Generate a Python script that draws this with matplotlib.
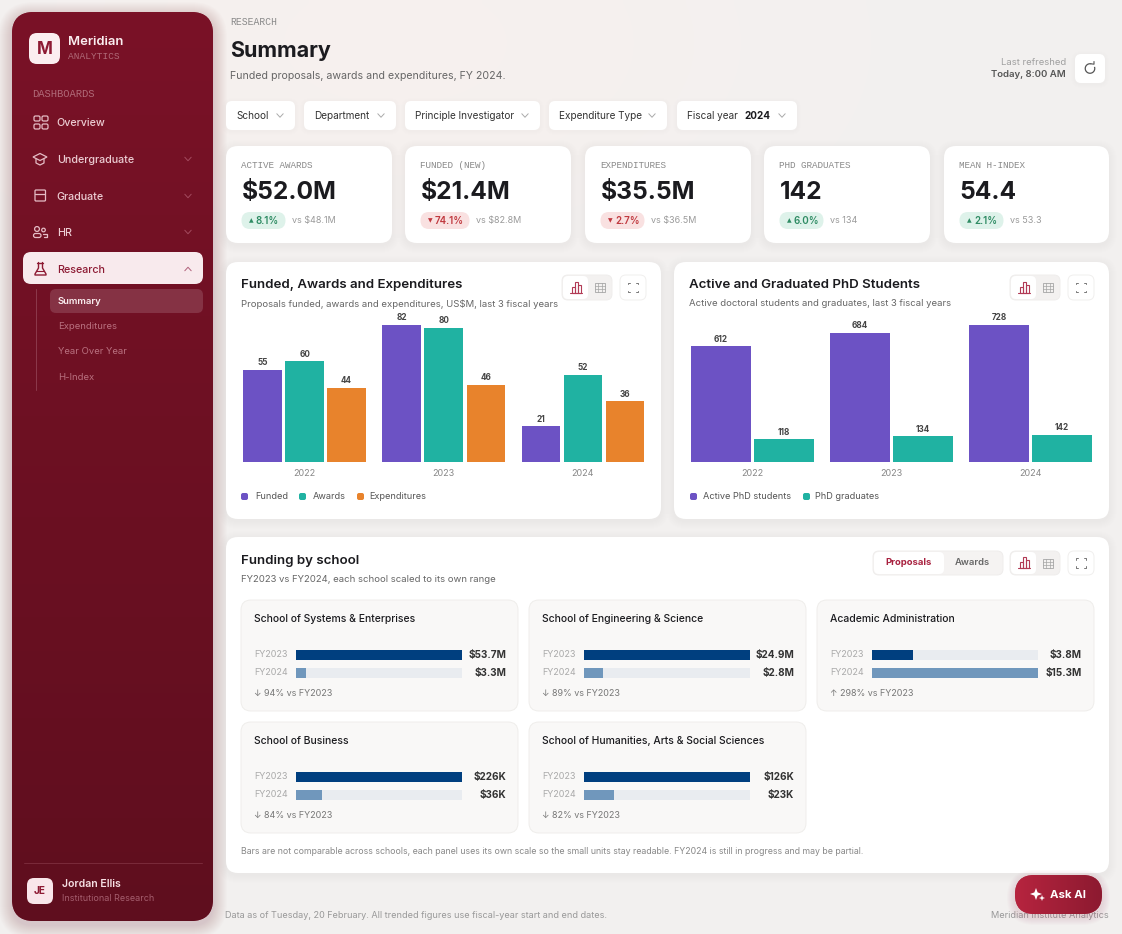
#!/usr/bin/env python3
import numpy as np
import matplotlib
matplotlib.use("Agg")
import matplotlib.pyplot as plt
from matplotlib.patches import FancyBboxPatch, Circle, Polygon, Arc
from matplotlib.colors import to_rgb

plt.rcParams['font.family'] = ['Inter', 'DejaVu Sans']

# research chart
years = ['2022', '2023', '2024']
funded = [55, 82, 21]
awards = [60, 80, 52]
expenditures = [44, 46, 36]

# phd chart
active_phd = [612, 684, 728]
phd_grads = [118, 134, 142]

# kpi cards
kpi_labels = ['ACTIVE AWARDS', 'FUNDED (NEW)', 'EXPENDITURES', 'PHD GRADUATES', 'MEAN H-INDEX']
kpi_values = ['$52.0M', '$21.4M', '$35.5M', '142', '54.4']
kpi_arrows = ['▲', '▼', '▼', '▲', '▲']
kpi_deltas = ['8.1%', '74.1%', '2.7%', '6.0%', '2.1%']
kpi_vs = ['vs $48.1M', 'vs $82.8M', 'vs $36.5M', 'vs 134', 'vs 53.3']

# school panels
schools = ['School of Systems & Enterprises', 'School of Engineering & Science',
           'Academic Administration', 'School of Business',
           'School of Humanities, Arts & Social Sciences']
fy23 = [53.7, 24.9, 3.8, 0.226, 0.126]
fy24 = [3.3, 2.8, 15.3, 0.036, 0.023]
fy23_labels = ['$53.7M', '$24.9M', '$3.8M', '$226K', '$126K']
fy24_labels = ['$3.3M', '$2.8M', '$15.3M', '$36K', '$23K']
school_deltas = ['↓ 94% vs FY2023', '↓ 89% vs FY2023', '↑ 298% vs FY2023',
                 '↓ 84% vs FY2023', '↓ 82% vs FY2023']

filters = ['School', 'Department', 'Principle Investigator', 'Expenditure Type', 'Fiscal year']
nav_items = ['Overview', 'Undergraduate', 'Graduate', 'HR', 'Research']
sub_items = ['Summary', 'Expenditures', 'Year Over Year', 'H-Index']

PURPLE = '#6c52c4'
TEAL = '#20b2a2'
ORANGE = '#e8832c'
NAVY = '#003f7f'
STEEL = '#7097bc'
TRACK = '#e9ecf0'
RED = '#a8213f'
INK = '#1b1b1f'
W, H = 1122, 934

fig = plt.figure(figsize=(W / 100, H / 100), dpi=100)
ax = fig.add_axes([0, 0, 1, 1])
ax.set_xlim(0, W)
ax.set_ylim(H, 0)
ax.axis('off')


def T(x, y, s, px, color=INK, weight='normal', ha='left', family=None, z=6):
    fam = family if family else ['Inter', 'DejaVu Sans']
    return ax.text(x, y + 0.8, s, fontsize=px * 0.72, color=color, fontweight=weight,
                   ha=ha, va='center', family=fam, zorder=z)


def box(x0, y0, x1, y1, r, fc, ec='none', lw=0.7, z=2, alpha=None):
    p = FancyBboxPatch((x0, y0), x1 - x0, y1 - y0, boxstyle=f'round,pad=0,rounding_size={r}',
                       fc=fc, ec=ec, lw=lw, zorder=z, alpha=alpha)
    ax.add_patch(p)
    return p


def shadow(x0, y0, x1, y1, r, dy=2, spread=8, color='#000000', a=0.0028):
    for i in range(spread, 0, -1):
        box(x0 - i, y0 - i + dy, x1 + i, y1 + i + dy, r + i, color, z=1.5, alpha=a)


def card(x0, y0, x1, y1, r=12):
    shadow(x0, y0, x1, y1, r)
    box(x0, y0, x1, y1, r, 'white', z=2)


def gradient(x0, y0, x1, y1, c0, c1, clip=None, horizontal=False, z=1.8):
    t = np.linspace(0, 1, 200)
    c0, c1 = np.array(to_rgb(c0)), np.array(to_rgb(c1))
    img = c0[None, :] * (1 - t[:, None]) + c1[None, :] * t[:, None]
    img = img[None, :, :] if horizontal else img[:, None, :]
    im = ax.imshow(img, extent=(x0, x1, y1, y0), aspect='auto', zorder=z, interpolation='bilinear')
    if clip is not None:
        im.set_clip_path(clip)
    return im


def line(xs, ys, color, lw=1.0, z=5):
    ax.plot(xs, ys, color=color, lw=lw, zorder=z, solid_capstyle='round', solid_joinstyle='round')


def chevron(x, y, color, up=False, s=3.2):
    d = -s * 0.55 if up else s * 0.55
    line([x - s, x, x + s], [y - d, y + d, y - d], color, 0.7)


def bar_icon(x, y, color):
    for dx, h in ((-4, 6), (-1, 11), (2.5, 8)):
        ax.add_patch(plt.Rectangle((x + dx, y + 5 - h), 3, h, fc='none', ec=color, lw=0.8, zorder=5))
    line([x - 5.5, x + 6.5], [y + 5, y + 5], color, 0.8)


def table_icon(x, y, color):
    ax.add_patch(plt.Rectangle((x - 5, y - 4.5), 10, 9, fc='none', ec=color, lw=0.6, zorder=5))
    for dx in (-1.7, 1.7):
        line([x + dx, x + dx], [y - 4.5, y + 4.5], color, 0.5)
    for dy in (-1.5, 1.5):
        line([x - 5, x + 5], [y + dy, y + dy], color, 0.5)


def expand_icon(x, y, color='#777777'):
    s, k = 4.8, 1.6
    for sx in (-1, 1):
        for sy in (-1, 1):
            line([x + sx * s, x + sx * s, x + sx * (s - k)],
                 [y + sy * (s - k), y + sy * s, y + sy * s], color, 0.7)


def toggles(x, y0, y1):
    # chart/table switch then the expand button
    shadow(x, y0, x + 50, y1, 6, dy=1, spread=3)
    box(x, y0, x + 50, y1, 6, '#f3f1f0', ec='#efedec', z=2.2)
    shadow(x + 1, y0 + 1, x + 26, y1 - 1, 5, dy=1, spread=2)
    box(x + 1, y0 + 1, x + 26, y1 - 1, 5, 'white', z=2.4)
    bar_icon(x + 14, (y0 + y1) / 2, '#b23a55')
    table_icon(x + 38, (y0 + y1) / 2, '#a5a5a5')
    shadow(x + 58, y0, x + 84, y1, 6, dy=1, spread=3)
    box(x + 58, y0, x + 84, y1, 6, 'white', ec='#f0efee', z=2.2)
    expand_icon(x + 71, (y0 + y1) / 2)


# page background, slightly pink near the top
bg = np.ones((120, 200, 3)) * np.array(to_rgb('#f2f1f0'))
yy, xx = np.mgrid[0:120, 0:200]
pink = np.exp(-(((xx - 70) / 70.0) ** 2 + ((yy - 5) / 28.0) ** 2))
bg = bg + pink[:, :, None] * np.array([0.017, -0.002, -0.007])
ax.imshow(np.clip(bg, 0, 1), extent=(0, W, H, 0), aspect='auto', zorder=0, interpolation='bilinear')
ax.set_xlim(0, W)
ax.set_ylim(H, 0)

# sidebar
for i in range(14, 0, -1):
    box(12 - i, 12 - i + 4, 213 + i, 921 + i + 4, 22 + i, '#7c1228', z=0.5, alpha=0.01)
side = box(12, 12, 213, 921, 22, '#7a1227', z=1.7)
gradient(12, 12, 213, 921, '#7a1227', '#5f0e1e', clip=side)

logo = box(29, 33, 60, 64, 8, '#fbeef0', z=3)
T(44.5, 48.5, 'M', 17, '#8d1a33', 'bold', ha='center')
T(68.5, 41.5, 'Meridian', 13, '#fbeef0', 'semibold')
T(68.5, 56, 'ANALYTICS', 9.5, '#b06a78', family='Liberation Mono')
T(32, 93.5, 'DASHBOARDS', 10.5, '#b06a78', family='Liberation Mono')

nav_y = [122, 159, 196, 232, 269]
box(23, 252, 203, 284, 8, '#f8eaed', z=3)
for name, y in zip(nav_items, nav_y):
    active = name == 'Research'
    T(56.8, y, name, 10.7, '#8d1a33' if active else '#eccdd3', 'medium')
    if name != 'Overview':
        chevron(188, y, '#b0607a' if active else '#a34a5e', up=active)

ic = '#e5bcc5'
# overview grid
for dx, dy in ((34, 116), (42, 116), (34, 124), (42, 124)):
    box(dx, dy, dx + 6, dy + 5, 1.5, 'none', ec=ic, lw=0.9, z=5)
# undergraduate cap
ax.add_patch(Polygon([[33, 157], [40, 153.5], [47, 157], [40, 160.5]], closed=True, fc='none', ec=ic, lw=0.9, zorder=5))
line([36, 36, 40, 44, 44], [159, 163, 165, 163, 159], ic, 0.9)
# graduate book
box(35, 190, 45.5, 201, 1, 'none', ec=ic, lw=0.9, z=5)
line([35.5, 45], [193.5, 193.5], ic, 0.9)
# hr people
ax.add_patch(Circle((37, 229), 2.4, fc='none', ec=ic, lw=0.9, zorder=5))
ax.add_patch(Circle((43.5, 230), 1.8, fc='none', ec=ic, lw=0.9, zorder=5))
box(33.5, 233.5, 41, 237.5, 2, 'none', ec=ic, lw=0.9, z=5)
line([43, 47, 47, 44], [233.5, 233.5, 237, 237], ic, 0.9)
# research flask
line([37.5, 43.5], [262.5, 262.5], '#8d1a33', 1.0)
line([38.5, 38.5, 35, 35, 46, 46, 42.5, 42.5], [262.5, 268, 274, 275, 275, 274, 268, 262.5], '#8d1a33', 1.0)
line([36.5, 44.5], [271, 271], '#8d1a33', 0.8)

line([36, 36], [289, 390], '#8c3a4c', 0.7, z=3)
box(50, 289, 203, 313, 6, '#853244', z=3)
for name, y in zip(sub_items, [300.5, 325.5, 351, 377]):
    T(57.8, y, name, 9.5, '#fbeef0' if name == 'Summary' else '#b9707f', 'semibold' if name == 'Summary' else 'normal')

line([24, 202], [862.5, 862.5], '#7a2a3a', 0.7, z=3)
box(27, 878, 53, 904, 7, '#f9e6ea', z=3)
T(40, 890.5, 'JE', 10, '#8d1a33', 'bold', ha='center')
T(62, 883.5, 'Jordan Ellis', 10.5, '#f6dfe3', 'semibold')
T(62, 898, 'Institutional Research', 9, '#a55e6e')

# header
T(230, 21.5, 'RESEARCH', 9.8, '#8a8a8a', family='Liberation Mono')
T(230, 50, 'Summary', 21.5, INK, 'bold')
T(230, 75.5, 'Funded proposals, awards and expenditures, FY 2024.', 10.6, '#666666')
T(1066, 61.5, 'Last refreshed', 9.5, '#a0a0a0', ha='right')
T(1066, 74, 'Today, 8:00 AM', 9.6, '#555555', 'semibold', ha='right')
shadow(1075, 54, 1105, 83, 6, dy=1, spread=4)
box(1075, 54, 1105, 83, 6, 'white')
ax.add_patch(Arc((1090, 68.5), 9.5, 9.5, theta1=-20, theta2=285, ec='#555555', lw=0.9, zorder=5))
line([1091, 1094, 1094], [63.8, 64.2, 61.5], '#555555', 0.8)

# filter row
filter_x = [(226, 295), (304, 396), (405, 540), (549, 667), (677, 797)]
for name, (x0, x1) in zip(filters, filter_x):
    shadow(x0, 101, x1, 130, 6, dy=1, spread=4)
    box(x0, 101, x1, 130, 6, 'white')
    T(x0 + 10, 115, name, 10, '#333333')
    chevron(x1 - 15, 115.5, '#aaaaaa')
T(745, 115, '2024', 10, INK, 'bold')

# kpi cards
kpi_x = [(226, 392), (405, 571), (585, 751), (764, 930), (944, 1109)]
pill_w = [44, 49, 44, 44, 44]
for i, (x0, x1) in enumerate(kpi_x):
    card(x0, 146, x1, 243)
    T(x0 + 15.5, 164.5, kpi_labels[i], 9.3, '#8a8a8a', family='Liberation Mono')
    T(x0 + 15.5, 192, kpi_values[i], 24.6, INK, 'bold')
    up = kpi_arrows[i] == '▲'
    col = '#2e8b63' if up else '#c0393f'
    box(x0 + 15.5, 212, x0 + 15.5 + pill_w[i], 229, 8.5, '#def2ea' if up else '#f9e1e1', z=3)
    T(x0 + 23, 220, kpi_arrows[i], 6, col, family=['DejaVu Sans'])
    T(x0 + 30, 220, kpi_deltas[i], 9.8, col, 'semibold')
    T(x0 + 15.5 + pill_w[i] + 7, 219.5, kpi_vs[i], 9, '#9a9a9a')

# chart cards
card(226, 262, 661, 519)
card(674, 262, 1109, 519)
T(241.5, 284.5, 'Funded, Awards and Expenditures', 13.3, INK, 'semibold')
T(241.5, 303, 'Proposals funded, awards and expenditures, US$M, last 3 fiscal years', 9.55, '#666666')
T(689.5, 284.5, 'Active and Graduated PhD Students', 13.3, INK, 'semibold')
T(689.5, 303, 'Active doctoral students and graduates, last 3 fiscal years', 9.55, '#666666')
toggles(562, 275, 300)
toggles(1010, 275, 300)


def px_axes(x0, y0, x1, y1):
    a = fig.add_axes([x0 / W, 1 - y1 / H, (x1 - x0) / W, (y1 - y0) / H], zorder=3)
    a.patch.set_alpha(0)
    for s in a.spines.values():
        s.set_visible(False)
    return a


def grouped(x0, x1, series, colors, per_px, width, step):
    a = px_axes(x0, 305, x1, 461.5)
    pos = np.arange(len(years))
    n = len(series)
    for i, (vals, c) in enumerate(zip(series, colors)):
        off = (i - (n - 1) / 2) * step
        rects = a.bar(pos + off, vals, width, color=c)
        a.bar_label(rects, padding=2, fontsize=5.9, color='#444444', fontweight='bold',
                    family=['Inter', 'DejaVu Sans'])
    a.set_xlim(-0.5, 2.5)
    a.set_ylim(0, 156.5 / per_px)
    a.set_yticks([])
    a.set_xticks(pos)
    a.set_xticklabels(years, fontsize=6.5, color='#888888')
    a.tick_params(axis='x', length=0, pad=5.5)


grouped(235, 652.5, [funded, awards, expenditures], [PURPLE, TEAL, ORANGE], 1.67, 0.277, 0.302)
grouped(682.6, 1100.2, [active_phd, phd_grads], [PURPLE, TEAL], 0.188, 0.431, 0.452)


def legend(items):
    for sx, tx, c, s in items:
        box(sx, 493, sx + 7, 500, 2, c, z=3)
        T(tx, 496, s, 9.2, '#555555')


legend([(241, 255, PURPLE, 'Funded'), (299, 313, TEAL, 'Awards'), (357, 369, ORANGE, 'Expenditures')])
legend([(690, 703, PURPLE, 'Active PhD students'), (803, 815, TEAL, 'PhD graduates')])

# funding by school
card(226, 537, 1109, 873)
T(241.5, 560.5, 'Funding by school', 13.3, INK, 'semibold')
T(241.5, 579, 'FY2023 vs FY2024, each school scaled to its own range', 9.55, '#666666')
shadow(873, 551, 1003, 575, 6, dy=1, spread=3)
box(873, 551, 1003, 575, 6, '#f5f3f2', ec='#efedec', z=2.2)
box(874, 552, 944, 574, 5, 'white', z=2.4)
T(909, 562, 'Proposals', 9.5, RED, 'bold', ha='center')
T(972, 562, 'Awards', 9.5, '#666666', 'semibold', ha='center')
toggles(1010, 551, 575)

panel_x = [241, 529, 817, 241, 529]
panel_y = [600, 600, 600, 722, 722]
for i, name in enumerate(schools):
    x0, y0 = panel_x[i], panel_y[i]
    box(x0, y0, x0 + 277, y0 + 111, 10, '#f9f8f7', ec='#efedeb', z=2.2)
    T(x0 + 13, y0 + 18, name, 10.4, INK, 'medium')
    T(x0 + 13, y0 + 54, 'FY2023', 9, '#aaaaaa')
    T(x0 + 13, y0 + 72, 'FY2024', 9, '#aaaaaa')
    T(x0 + 265, y0 + 54.5, fy23_labels[i], 10, '#333333', 'bold', ha='right')
    T(x0 + 265, y0 + 72.5, fy24_labels[i], 10, '#333333', 'bold', ha='right')
    T(x0 + 13, y0 + 92.5, school_deltas[i], 9, '#777777')
    a = px_axes(x0 + 55, y0 + 45, x0 + 221, y0 + 83)
    top = max(fy23[i], fy24[i])
    a.barh([0, 1], [top, top], 10 / 18, color=TRACK)
    a.barh([0, 1], [fy23[i], fy24[i]], 10 / 18, color=[NAVY, STEEL])
    a.set_xlim(0, top)
    a.set_ylim(1 + 10 / 18, -10 / 18)
    a.set_xticks([])
    a.set_yticks([])

T(241.5, 850.5, 'Bars are not comparable across schools, each panel uses its own scale so the small units stay readable. '
                'FY2024 is still in progress and may be partial.', 8.77, '#888888')

# footer
T(225.5, 914.5, 'Data as of Tuesday, 20 February. All trended figures use fiscal-year start and end dates.', 9.1, '#999999')
T(1109, 914.5, 'Meridian Institute Analytics', 9.2, '#999999', ha='right', z=2)

# ask ai button
for i in range(8, 0, -1):
    box(1015 - i, 875 - i + 3, 1102 + i, 914 + i + 3, 19.5 + i, '#a8213f', z=3, alpha=0.014)
btn = box(1015, 875, 1102, 914, 19.5, '#a8213f', z=3.1)
gradient(1015, 875, 1102, 914, '#b7243f', '#8c1a30', clip=btn, horizontal=True, z=3.2)
ax.add_patch(Polygon([[1036, 888], [1037.6, 892.4], [1042, 894], [1037.6, 895.6], [1036, 900],
                      [1034.4, 895.6], [1030, 894], [1034.4, 892.4]], closed=True, fc='white', ec='none', zorder=6))
ax.add_patch(Polygon([[1042, 895], [1042.8, 897.2], [1045, 898], [1042.8, 898.8], [1042, 901],
                      [1041.2, 898.8], [1039, 898], [1041.2, 897.2]], closed=True, fc='white', ec='none', zorder=6))
T(1068.5, 894.5, 'Ask AI', 11.4, 'white', 'bold', ha='center')

ax.set_xlim(0, W)
ax.set_ylim(H, 0)
fig.savefig('out.png', dpi=100)
